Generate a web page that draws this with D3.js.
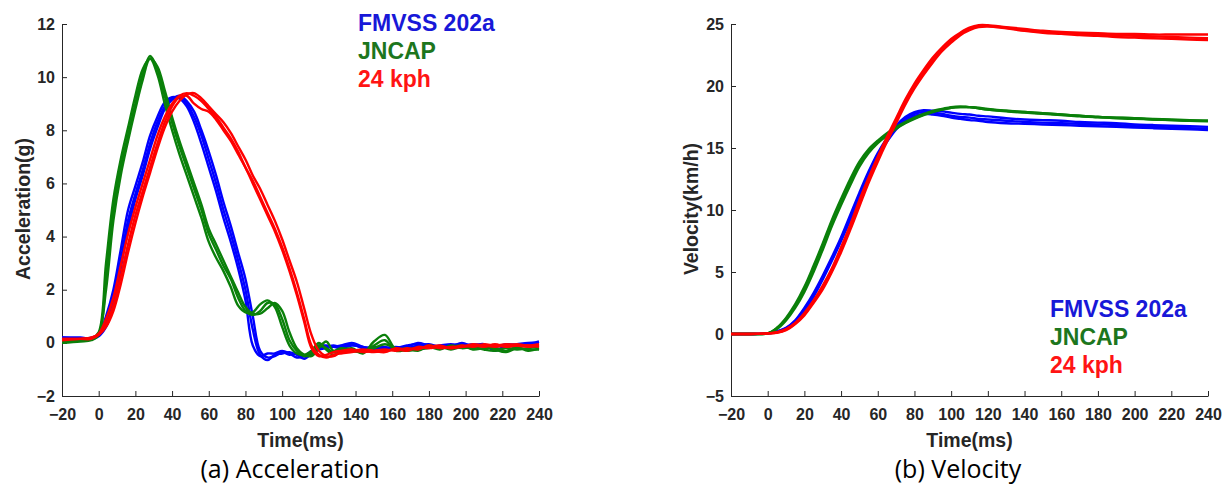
<!DOCTYPE html>
<html>
<head>
<meta charset="utf-8">
<script src="https://cdn.jsdelivr.net/npm/d3@7/dist/d3.min.js"></script>
<style>
  body { margin: 0; background: #fff; }
  svg { display: block; }
  .tick text { font-family: 'Liberation Sans', Arial, sans-serif; font-weight: bold; font-size: 16px; fill: #262626; }
  .domain, .tick line { stroke: #262626; }
</style>
</head>
<body>
<svg id="chart"></svg>
<script>
// Time stamps (ms) for the acceleration traces
const accTime = [-20, -10, -4, 0, 4, 8, 12, 16, 20, 24, 28, 32, 36, 40, 44, 48, 52, 56, 60, 64, 68, 72, 76, 80,
  84, 88, 92, 96, 100, 104, 108, 112, 116, 120, 124, 128, 132, 138, 144, 150, 156, 162, 168, 174, 180, 186,
  192, 198, 204, 210, 216, 222, 228, 234, 240];

// Acceleration (g) - FMVSS 202a
const accFmvss1 = [0.2, 0.15, 0.15, 0.3, 1.0, 2.0, 3.5, 5.0, 5.9, 6.8, 7.8, 8.5, 9.05, 9.25, 9.2, 8.9, 8.3, 7.5, 6.6, 5.7, 4.7, 3.8, 2.8, 1.6,
  -0.1, -0.5, -0.4, -0.4, -0.3, -0.4, -0.55, -0.5, -0.3, -0.1, -0.1, -0.15, -0.1, 0.0, -0.15, -0.2, -0.15, -0.25, -0.15, 0.0, -0.1, -0.15,
  -0.1, -0.05, -0.1, -0.05, -0.3, -0.1, -0.05, 0.0, 0.0];
const accFmvss2 = [0.15, 0.15, 0.2, 0.3, 0.8, 1.7, 3.1, 4.6, 5.6, 6.5, 7.5, 8.3, 8.9, 9.2, 9.25, 9.0, 8.5, 7.8, 6.9, 6.0, 5.0, 4.1, 3.1, 2.0,
  0.5, -0.45, -0.65, -0.45, -0.4, -0.35, -0.45, -0.6, -0.4, -0.2, -0.15, -0.1, -0.15, -0.05, -0.2, -0.15, -0.2, -0.2, -0.1, -0.05, -0.15, -0.1,
  -0.05, -0.1, -0.05, -0.1, -0.15, -0.05, -0.1, -0.05, 0.05];
const accFmvss3 = [0.2, 0.2, 0.15, 0.25, 0.6, 1.4, 2.8, 4.3, 5.4, 6.3, 7.3, 8.1, 8.8, 9.15, 9.3, 9.1, 8.7, 8.0, 7.2, 6.3, 5.3, 4.4, 3.4, 2.4,
  1.0, -0.3, -0.55, -0.5, -0.35, -0.45, -0.4, -0.5, -0.45, -0.25, -0.2, -0.15, -0.2, -0.1, -0.15, -0.25, -0.2, -0.15, -0.2, -0.1, -0.05, -0.15,
  -0.15, 0.0, -0.15, -0.1, -0.1, -0.15, -0.1, -0.1, -0.05];

// Acceleration (g) - JNCAP
const accJncap1 = [0.05, 0.1, 0.15, 0.4, 3.0, 5.4, 6.9, 8.1, 9.3, 10.3, 10.7, 10.1, 9.0, 8.0, 7.1, 6.3, 5.5, 4.7, 3.8, 3.2, 2.7, 2.1, 1.4, 1.15,
  1.15, 1.45, 1.6, 1.35, 0.6, -0.1, -0.4, -0.45, -0.3, 0.0, -0.25, -0.45, -0.3, -0.2, -0.4, 0.05, 0.3, -0.25, -0.2, -0.3, -0.1, -0.2,
  -0.15, -0.1, -0.25, -0.2, -0.2, -0.3, -0.15, -0.3, -0.2];
const accJncap2 = [0.0, 0.05, 0.1, 0.3, 2.4, 5.0, 6.6, 7.8, 9.0, 10.1, 10.8, 10.3, 9.3, 8.3, 7.4, 6.6, 5.8, 5.0, 4.1, 3.5, 2.9, 2.4, 1.7, 1.2,
  1.05, 1.2, 1.5, 1.45, 0.9, 0.1, -0.3, -0.5, -0.4, -0.1, -0.2, -0.35, -0.25, -0.3, -0.35, -0.1, 0.1, -0.3, -0.25, -0.2, -0.15, -0.25,
  -0.1, -0.2, -0.15, -0.25, -0.3, -0.2, -0.25, -0.2, -0.15];
const accJncap3 = [0.1, 0.1, 0.15, 0.35, 2.0, 4.6, 6.3, 7.6, 8.8, 9.9, 10.7, 10.4, 9.5, 8.5, 7.6, 6.8, 6.0, 5.2, 4.3, 3.7, 3.1, 2.5, 1.9, 1.35,
  1.1, 1.1, 1.3, 1.5, 1.2, 0.4, -0.2, -0.45, -0.5, -0.2, 0.05, -0.3, -0.2, -0.25, -0.3, -0.2, -0.05, -0.2, -0.3, -0.25, -0.2, -0.15,
  -0.25, -0.15, -0.2, -0.1, -0.25, -0.35, -0.2, -0.25, -0.25];

// Acceleration (g) - 24 kph
const acc24kph1 = [0.15, 0.15, 0.2, 0.35, 0.9, 1.7, 2.9, 4.1, 5.1, 6.0, 6.9, 7.8, 8.5, 9.0, 9.3, 9.4, 9.3, 9.1, 8.8, 8.5, 8.1, 7.7, 7.2, 6.6,
  6.1, 5.5, 4.9, 4.3, 3.6, 2.8, 1.9, 0.9, -0.1, -0.45, -0.55, -0.45, -0.4, -0.35, -0.3, -0.35, -0.3, -0.25, -0.3, -0.15, -0.2, -0.15,
  -0.2, -0.1, -0.15, -0.05, -0.1, -0.05, -0.1, -0.15, -0.1];
const acc24kph2 = [0.1, 0.15, 0.2, 0.3, 0.7, 1.4, 2.5, 3.7, 4.8, 5.7, 6.6, 7.5, 8.3, 8.9, 9.25, 9.3, 9.0, 8.8, 8.7, 8.4, 8.0, 7.6, 7.1, 6.6,
  6.0, 5.4, 4.8, 4.2, 3.5, 2.7, 1.8, 0.8, -0.2, -0.5, -0.45, -0.35, -0.3, -0.25, -0.35, -0.3, -0.25, -0.3, -0.2, -0.25, -0.1, -0.2,
  -0.15, -0.15, -0.1, -0.15, -0.05, -0.15, -0.1, -0.1, -0.15];
const acc24kph3 = [0.15, 0.15, 0.15, 0.3, 0.6, 1.2, 2.2, 3.4, 4.5, 5.5, 6.4, 7.3, 8.1, 8.7, 9.1, 9.35, 9.4, 9.2, 8.9, 8.6, 8.3, 7.9, 7.4, 6.9,
  6.3, 5.8, 5.2, 4.6, 3.9, 3.1, 2.3, 1.3, 0.3, -0.3, -0.5, -0.5, -0.35, -0.3, -0.25, -0.3, -0.35, -0.2, -0.25, -0.2, -0.15, -0.1,
  -0.2, -0.15, -0.05, -0.1, -0.15, -0.1, -0.05, -0.1, -0.05];

// Time stamps (ms) for the velocity traces
const velTime = [-20, -10, 0, 5, 10, 15, 20, 25, 30, 35, 40, 45, 50, 55, 60, 65, 70, 75, 80, 85, 90, 95, 100, 105, 110,
  115, 120, 130, 140, 150, 160, 170, 180, 190, 200, 210, 220, 230, 240];

// Velocity (km/h) - FMVSS 202a
const velFmvss1 = [0, 0, 0.05, 0.2, 0.5, 1.1, 2.1, 3.3, 4.7, 6.2, 7.8, 9.6, 11.4, 13.1, 14.6, 15.8, 16.8, 17.5, 17.9, 18.05, 18.0, 17.95, 17.85, 17.75, 17.7,
  17.6, 17.55, 17.4, 17.3, 17.25, 17.2, 17.1, 17.05, 17.0, 16.9, 16.85, 16.8, 16.75, 16.7];
const velFmvss2 = [0, 0, 0.05, 0.15, 0.4, 1.0, 1.9, 3.0, 4.4, 5.9, 7.5, 9.2, 11.0, 12.8, 14.3, 15.5, 16.5, 17.2, 17.6, 17.75, 17.7, 17.6, 17.45, 17.35, 17.25,
  17.2, 17.1, 17.0, 16.95, 16.9, 16.85, 16.8, 16.75, 16.7, 16.65, 16.6, 16.55, 16.5, 16.45];
const velFmvss3 = [0, 0, 0.05, 0.2, 0.45, 1.05, 2.0, 3.15, 4.55, 6.05, 7.65, 9.4, 11.2, 12.95, 14.45, 15.65, 16.65, 17.35, 17.75, 17.9, 17.85, 17.75, 17.6, 17.5, 17.45,
  17.35, 17.3, 17.2, 17.1, 17.05, 17.0, 16.95, 16.9, 16.85, 16.75, 16.7, 16.65, 16.6, 16.55];

// Velocity (km/h) - JNCAP
const velJncap1 = [0, 0, 0.05, 0.5, 1.3, 2.4, 3.8, 5.5, 7.3, 9.2, 10.9, 12.5, 13.9, 14.9, 15.6, 16.2, 16.7, 17.1, 17.45, 17.75, 18.0, 18.15, 18.3, 18.35, 18.3,
  18.25, 18.15, 18.0, 17.9, 17.8, 17.7, 17.6, 17.5, 17.45, 17.4, 17.35, 17.3, 17.25, 17.2];
const velJncap2 = [0, 0, 0.05, 0.4, 1.1, 2.1, 3.4, 5.0, 6.8, 8.7, 10.4, 12.0, 13.5, 14.6, 15.4, 16.0, 16.55, 17.0, 17.35, 17.65, 17.9, 18.1, 18.25, 18.3, 18.3,
  18.2, 18.1, 17.95, 17.85, 17.75, 17.65, 17.55, 17.5, 17.4, 17.35, 17.3, 17.25, 17.2, 17.15];
const velJncap3 = [0, 0, 0.05, 0.45, 1.2, 2.25, 3.6, 5.25, 7.05, 8.95, 10.65, 12.25, 13.7, 14.75, 15.5, 16.1, 16.6, 17.05, 17.4, 17.7, 17.95, 18.1, 18.25, 18.3, 18.3,
  18.2, 18.1, 18.0, 17.9, 17.8, 17.7, 17.6, 17.5, 17.45, 17.4, 17.3, 17.25, 17.2, 17.2];

// Velocity (km/h) - 24 kph
const vel24kph1 = [0, 0, 0.05, 0.15, 0.4, 0.9, 1.7, 2.7, 3.9, 5.3, 7.0, 8.8, 10.8, 12.6, 14.3, 15.9, 17.4, 18.9, 20.2, 21.3, 22.3, 23.1, 23.8, 24.3, 24.7,
  24.9, 24.9, 24.75, 24.6, 24.45, 24.35, 24.3, 24.25, 24.2, 24.2, 24.15, 24.15, 24.15, 24.15];
const vel24kph2 = [0, 0, 0.05, 0.1, 0.3, 0.8, 1.5, 2.5, 3.6, 5.0, 6.6, 8.4, 10.3, 12.2, 13.9, 15.5, 17.0, 18.5, 19.8, 20.9, 21.9, 22.8, 23.5, 24.1, 24.5,
  24.75, 24.8, 24.65, 24.45, 24.3, 24.2, 24.1, 24.05, 23.95, 23.9, 23.85, 23.8, 23.75, 23.7];
const vel24kph3 = [0, 0, 0.05, 0.12, 0.35, 0.85, 1.6, 2.6, 3.75, 5.15, 6.8, 8.6, 10.55, 12.4, 14.1, 15.7, 17.2, 18.7, 20.0, 21.1, 22.1, 22.95, 23.65, 24.2, 24.6,
  24.85, 24.85, 24.7, 24.5, 24.35, 24.25, 24.2, 24.15, 24.1, 24.05, 24.0, 23.95, 23.9, 23.85];

// Legend labels, colours and axis ticks
const groups = ['FMVSS 202a', 'JNCAP', '24 kph'];
const lineColors = ['#0000ff', '#0a800a', '#ff0000'];
const textColors = ['#1818d8', '#1d761d', '#ff1414'];
const timeTicks = [-20, 0, 20, 40, 60, 80, 100, 120, 140, 160, 180, 200, 220, 240];
const accTicks = [-2, 0, 2, 4, 6, 8, 10, 12];
const velTicks = [-5, 0, 5, 10, 15, 20, 25];

const width = 1231;
const height = 491;
const plotTop = 24;
const plotBottom = 396;

const svg = d3.select('#chart').attr('width', width).attr('height', height);
svg.append('rect').attr('width', width).attr('height', height).attr('fill', '#fff');

// Draw one panel: axes, traces, legend, labels
const drawPanel = (opt) => {
  const xScale = d3.scaleLinear().domain([-20, 240]).range([opt.left, opt.right]);
  const yScale = d3.scaleLinear().domain(opt.yDomain).range([plotBottom, plotTop]);

  const g = svg.append('g');

  g.append('g')
    .attr('transform', 'translate(0,' + plotBottom + ')')
    .call(d3.axisBottom(xScale).tickValues(timeTicks).tickSizeInner(-5).tickSizeOuter(0).tickPadding(13));

  g.append('g')
    .attr('transform', 'translate(' + opt.left + ',0)')
    .call(d3.axisLeft(yScale).tickValues(opt.yTicks).tickSizeInner(-5).tickSizeOuter(0).tickPadding(7));

  const line = d3.line()
    .x((d) => xScale(d[0]))
    .y((d) => yScale(d[1]))
    .curve(d3.curveCatmullRom.alpha(0.5));

  // blue first, then green, red on top
  opt.series.forEach((set, i) => {
    set.forEach((vals) => {
      g.append('path')
        .datum(opt.time.map((t, k) => [t, vals[k]]))
        .attr('fill', 'none')
        .attr('stroke', lineColors[i])
        .attr('stroke-width', 2.4)
        .attr('stroke-linejoin', 'round')
        .attr('d', line);
    });
  });

  // Legend text
  groups.forEach((name, i) => {
    g.append('text')
      .attr('x', opt.legendX)
      .attr('y', opt.legendY + i * 28)
      .attr('fill', textColors[i])
      .style('font-family', "'Liberation Sans', Arial, sans-serif")
      .style('font-weight', 'bold')
      .style('font-size', '23px')
      .text(name);
  });

  // Axis titles
  g.append('text')
    .attr('x', (opt.left + opt.right) / 2)
    .attr('y', 447)
    .attr('text-anchor', 'middle')
    .attr('fill', '#262626')
    .style('font-family', "'Liberation Sans', Arial, sans-serif")
    .style('font-weight', 'bold')
    .style('font-size', '19.5px')
    .text('Time(ms)');

  g.append('text')
    .attr('transform', 'translate(' + opt.yLabelX + ',209) rotate(-90)')
    .attr('text-anchor', 'middle')
    .attr('fill', '#262626')
    .style('font-family', "'Liberation Sans', Arial, sans-serif")
    .style('font-weight', 'bold')
    .style('font-size', '19.5px')
    .text(opt.yLabel);

  // Caption under the panel
  g.append('text')
    .attr('x', opt.captionX)
    .attr('y', 478)
    .attr('text-anchor', 'middle')
    .attr('fill', '#000')
    .style('font-family', "'Open Sans', 'Noto Sans', sans-serif")
    .style('font-size', '25px')
    .text(opt.caption);
};

drawPanel({
  left: 62, right: 539,
  yDomain: [-2, 12], yTicks: accTicks,
  time: accTime,
  series: [[accFmvss1, accFmvss2, accFmvss3], [accJncap1, accJncap2, accJncap3], [acc24kph1, acc24kph2, acc24kph3]],
  legendX: 358, legendY: 31,
  yLabel: 'Acceleration(g)', yLabelX: 30,
  caption: '(a) Acceleration', captionX: 290
});

drawPanel({
  left: 731, right: 1208,
  yDomain: [-5, 25], yTicks: velTicks,
  time: velTime,
  series: [[velFmvss1, velFmvss2, velFmvss3], [velJncap1, velJncap2, velJncap3], [vel24kph1, vel24kph2, vel24kph3]],
  legendX: 1050, legendY: 317,
  yLabel: 'Velocity(km/h)', yLabelX: 698,
  caption: '(b) Velocity', captionX: 958
});
</script>
</body>
</html>
